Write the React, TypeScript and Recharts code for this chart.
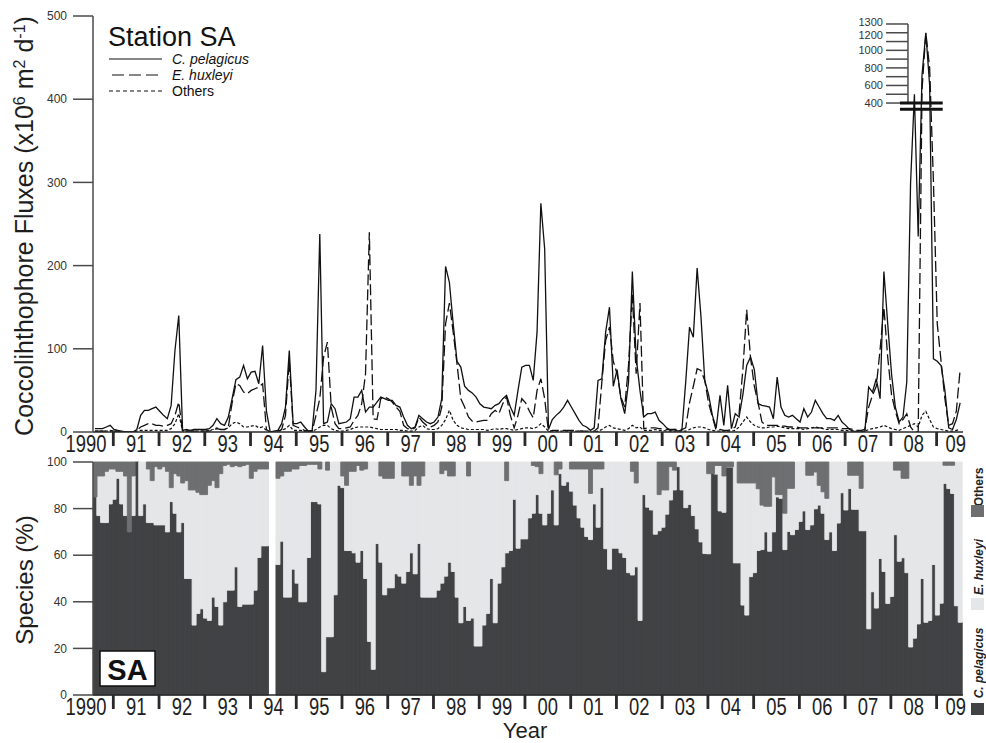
import React from 'react';
import { LineChart, Line, XAxis, YAxis, ReferenceLine, BarChart, Bar } from 'recharts';

const FONT = "'Liberation Sans', Arial, Helvetica, sans-serif";

// sampling grid (years)
const START_YEAR = 1990.556;
const END_YEAR = 2009.577;
const STEP = 1 / 12;

// Fluxes (x10^6 m^-2 d^-1), one value per sample
const pelagicusFlux = [
  4, 4, 4, 6, 8, 3, 2, 1, 0, 0, 0, 3,
  20, 26, 26, 28, 30, 25, 20, 16, 32, 98, 140, 2,
  3, 2, 3, 3, 3, 3, 4, 8, 16, 10, 8, 18,
  40, 63, 66, 80, 64, 72, 73, 58, 104, 25, 0, 1,
  2, 10, 30, 98, 10, 10, 12, 6, 1, 2, 50, 238,
  10, 12, 34, 28, 10, 11, 12, 16, 42, 42, 50, 24,
  30, 30, 36, 42, 40, 38, 38, 32, 30, 18, 8, 4,
  6, 20, 16, 12, 10, 12, 18, 40, 199, 180, 130, 85,
  78, 55, 50, 47, 42, 34, 30, 29, 28, 32, 34, 40,
  44, 30, 20, 50, 78, 80, 80, 62, 120, 275, 220, 3,
  15, 20, 24, 30, 38, 30, 22, 14, 8, 6, 2, 5,
  62, 64, 120, 150, 55, 75, 40, 22, 60, 193, 90, 50,
  18, 22, 22, 24, 14, 10, 5, 2, 3, 1, 2, 60,
  126, 114, 197, 139, 62, 45, 20, 5, 44, 8, 56, 4,
  22, 18, 45, 80, 90, 75, 34, 32, 31, 30, 16, 66,
  30, 20, 18, 20, 16, 12, 28, 18, 24, 38, 30, 22,
  16, 16, 14, 20, 12, 8, 3, 1, 0, 0, 1, 54,
  48, 64, 40, 193, 130, 70, 30, 12, 18, 60, 300, 500,
  235, 720, 1200, 600, 88, 85, 80, 50, 5, 3, 15, 35,
];
const huxleyiFlux = [
  1, 1, 1, 1, 2, 1, 1, 0, 0, 0, 0, 2,
  6, 8, 10, 10, 8, 8, 7, 8, 10, 20, 36, 1,
  1, 1, 1, 1, 1, 1, 1, 2, 4, 3, 3, 6,
  35, 58, 56, 48, 46, 50, 52, 54, 58, 3, 0, 0,
  1, 3, 20, 86, 8, 6, 4, 2, 1, 1, 20, 40,
  90, 108, 30, 10, 4, 4, 5, 6, 14, 20, 34, 70,
  240, 16, 15, 40, 42, 40, 36, 30, 25, 8, 4, 3,
  5, 18, 12, 8, 6, 8, 12, 30, 130, 155, 120, 82,
  40, 30, 18, 13, 12, 13, 14, 14, 22, 26, 22, 34,
  42, 20, 5, 20, 40, 35, 25, 17, 50, 64, 40, 0,
  2, 2, 2, 2, 2, 2, 2, 1, 1, 1, 1, 1,
  5, 60, 110, 126, 85, 70, 42, 30, 80, 165, 70, 155,
  4, 5, 5, 5, 4, 4, 3, 3, 3, 3, 3, 5,
  35, 55, 76, 74, 62, 35, 18, 2, 3, 2, 2, 3,
  6, 22, 75, 147, 90, 55, 35, 12, 8, 8, 8, 8,
  7, 7, 6, 6, 6, 5, 5, 5, 5, 5, 5, 5,
  5, 5, 5, 5, 4, 4, 4, 3, 2, 2, 3, 30,
  44, 55, 99, 150, 90, 45, 25, 10, 15, 22, 6, 0,
  0, 550, 1200, 800, 300, 130, 85, 40, 8, 10, 25, 75,
];
const othersFlux = [
  1, 1, 1, 1, 1, 1, 1, 0, 0, 0, 0, 1,
  2, 2, 2, 2, 2, 2, 2, 2, 4, 10, 22, 1,
  1, 1, 1, 1, 1, 1, 2, 3, 5, 3, 3, 5,
  10, 12, 10, 6, 6, 7, 8, 5, 6, 2, 0, 0,
  1, 2, 4, 8, 2, 2, 2, 1, 1, 1, 3, 6,
  8, 8, 4, 2, 1, 1, 2, 3, 5, 6, 6, 6,
  6, 5, 4, 3, 3, 3, 3, 3, 2, 2, 1, 1,
  2, 6, 8, 4, 3, 3, 4, 8, 15, 26, 14, 8,
  5, 4, 3, 3, 3, 3, 3, 2, 3, 4, 3, 4,
  4, 3, 2, 3, 4, 5, 5, 4, 6, 10, 6, 1,
  1, 1, 1, 1, 1, 1, 1, 1, 1, 0, 0, 0,
  1, 3, 6, 8, 5, 4, 3, 2, 4, 8, 5, 6,
  2, 2, 2, 3, 2, 2, 1, 1, 1, 1, 1, 1,
  3, 5, 6, 6, 5, 3, 2, 1, 1, 1, 1, 1,
  2, 6, 12, 18, 12, 8, 6, 5, 5, 6, 6, 7,
  6, 5, 4, 4, 4, 4, 3, 4, 5, 6, 5, 4,
  3, 3, 3, 3, 2, 2, 1, 1, 1, 1, 1, 3,
  4, 5, 6, 8, 6, 4, 3, 2, 4, 6, 8, 10,
  6, 20, 25, 15, 6, 4, 3, 2, 1, 1, 2, 3,
];

// Relative abundance (%)
const pelagicusPct: (number | null)[] = [
  85, 77, 74, 74, 82, 84, 93, 82, 77, 70, 77, 100,
  77, 82, 74, 74, 73, 73, 73, 70, 83, 78, 70, 74,
  50, 50, 30, 35, 37, 33, 32, 42, 38, 30, 40, 45,
  45, 55, 38, 39, 39, 39, 45, 59, 64, 64, null, null,
  56, 66, 42, 42, 54, 48, 40, 40, 59, 83, 83, 82,
  10, 25, 25, 43, 90, 89, 62, 62, 61, 57, 62, 50,
  23, 11, 65, 57, 43, 46, 46, 52, 51, 48, 53, 61,
  52, 65, 42, 42, 42, 42, 45, 48, 51, 57, 53, 42,
  31, 38, 32, 33, 21, 21, 30, 35, 50, 31, 48, 55,
  61, 62, 84, 63, 67, 67, 76, 78, 86, 78, 73, 78,
  88, 73, 95, 90, 91.5, 87.5, 81.5, 76, 72, 68, 66.7, 82,
  72, 89, 62.8, 54, 63, 63, 61, 59, 52.5, 51.5, 55, 32,
  86, 80.6, 79.4, 69, 70.5, 72, 77.6, 83.7, 88, 98, 88, 80.4,
  81.8, 77, 71.3, 65.7, 60.7, 60.6, 95, 94.8, 79, 78.4, 97.9, 97.9,
  56.7, 56.7, 38.6, 34.3, 50.8, 52.5, 62, 62.4, 70, 61.7, 70, 85,
  84.4, 62.4, 70.2, 68.8, 71, 74.5, 79, 71, 73, 79.9, 81.5, 78,
  66.7, 70, 62, 73.8, 86.8, 79.4, 88.6, 79.7, 79.7, 70.5, 70.5, 28.4,
  44.3, 37.3, 58.6, 53, 39.3, 42.3, 68.8, 57.4, 58.9, 52.5, 20.6, 24.4,
  30.5, 50, 31.2, 32, 56, 34.3, 39.4, 90.8, 88.6, 86.5, 38.3, 31.2,
];
const othersPct: (number | null)[] = [
  15, 6, 6, 4, 3, 3, 4, 4, 6, 30, 6, 0,
  0, 0, 3, 8, 2, 3, 2, 4, 11, 5, 6, 9,
  8, 12, 12, 13, 14, 14, 10, 8, 11, 5, 1.5, 1,
  2, 1.5, 2, 1.5, 1, 7, 4, 3, 3, 3, null, null,
  7, 6, 4, 4, 3, 3, 1.5, 1.5, 1, 1, 1, 3,
  0, 3.5, 0, 0, 0, 6, 10, 4, 4, 1.5, 3.5, 3,
  0, 0, 0, 6, 7, 7, 7, 0, 0, 6, 6, 10,
  6, 10, 6, 0, 0, 0, 0, 5, 3.5, 6, 6, 0,
  0, 0, 6, 0, 0, 0, 0, 0, 0, 0, 0, 0,
  8, 0, 0, 0, 0, 0, 0, 1.5, 2, 5, 0, 0,
  0, 5.5, 3, 0, 0, 3, 3, 3, 3, 3, 13.5, 3,
  3, 3, 0, 0, 0, 0, 0, 0, 0, 4, 9, 0,
  0, 0, 0, 0, 14, 12, 12, 2, 3.5, 0, 0, 0,
  0, 0, 0, 0, 0, 5, 5, 1.5, 1.5, 6, 2, 2,
  0, 9, 9, 9, 9, 9, 11.5, 18.5, 19, 19, 6.4, 14,
  14, 22, 11.3, 11.3, 0, 0, 0, 5.7, 5.7, 4.3, 10, 12.8,
  15.6, 0, 0, 0, 0, 0, 5.7, 5.7, 5.7, 11.3, 0, 0,
  0, 0, 0, 0, 0, 0, 3.5, 3.5, 7, 7, 0, 0,
  0, 0, 0, 0, 0, 0, 0, 1.4, 1.4, 1.4, 0, 0,
];

// axis ticks & labels
const yearBoundaries = [1991, 1992, 1993, 1994, 1995, 1996, 1997, 1998, 1999, 2000, 2001, 2002, 2003, 2004, 2005, 2006, 2007, 2008, 2009];
const yearLabelPos = [1990.6, 1991.5, 1992.5, 1993.5, 1994.5, 1995.5, 1996.5, 1997.5, 1998.5, 1999.5, 2000.5, 2001.5, 2002.5, 2003.5, 2004.5, 2005.5, 2006.5, 2007.5, 2008.5, 2009.42];
const yearLabels = ['1990', '91', '92', '93', '94', '95', '96', '97', '98', '99', '00', '01', '02', '03', '04', '05', '06', '07', '08', '09'];
const yearLabelShift = [-9, 0, 0, 0, 0, 0, 0, 0, 0, 0, 0, 0, 0, 0, 0, 0, 0, 0, 0, 0];
const fluxTicks = [0, 100, 200, 300, 400, 500];
const pctTicks = [0, 20, 40, 60, 80, 100];
const insetTicks = [400, 500, 600, 700, 800, 900, 1000, 1100, 1200, 1300];
const insetLabelled = [400, 600, 800, 1000, 1200, 1300];
const insetLabelNudge: Record<number, number> = { 1300: -2, 1200: 2 };

// broken axis
const BREAK_AT = 400;
const BREAK_BASE = 395.4;
const UPPER_RATIO = 95 / 900;
const toDisplay = (v: number) => (v < BREAK_AT ? v : BREAK_BASE + (v - BREAK_AT) * UPPER_RATIO);
const INSET_AXIS_X = 2008.374;
const INSET_TICK_X = 2007.893;
const BREAK_X0 = 2008.199;
const BREAK_X1 = 2009.133;
const BREAK_LOW = 387.9;

const sampleTime = (i: number) => START_YEAR + (i + 0.5) * STEP;

const fluxData = pelagicusFlux.map((p, i) => ({
  t: sampleTime(i),
  pel: toDisplay(p),
  hux: toDisplay(huxleyiFlux[i]),
  oth: toDisplay(othersFlux[i]),
}));

const pctData = pelagicusPct.map((p, i) => {
  const o = othersPct[i];
  return {
    t: sampleTime(i),
    pel: p,
    hux: p == null || o == null ? null : Math.max(0, 100 - p - o),
    oth: o,
  };
});

const allXTicks = [...yearBoundaries, ...yearLabelPos].sort((a, b) => a - b);

const DARK = '#414244';
const LIGHT = '#e5e6e8';
const MID = '#6e6f71';
const AXIS = '#4a4a4a';

function YearTick(props: any) {
  const { x, y, payload } = props;
  const v: number = payload && payload.value;
  if (yearBoundaries.some((b) => Math.abs(b - v) < 1e-6)) {
    return <rect x={x - 1.4} y={y} width={2.8} height={14} fill="#2a2a2a" />;
  }
  const li = yearLabelPos.findIndex((p) => Math.abs(p - v) < 1e-6);
  if (li < 0) return <g />;
  return (
    <g transform={`translate(${x + yearLabelShift[li]},${y + 19.5}) scale(0.8,1)`}>
      <text x={0} y={0} textAnchor="middle" fontSize={23} fill="#1e1e1e" fontFamily={FONT}>
        {yearLabels[li]}
      </text>
    </g>
  );
}

const yTickStyle = { fontSize: 12, fill: '#333', fontFamily: FONT };

function FluxChart() {
  return (
    <LineChart width={986} height={460} data={fluxData} margin={{ top: 16, right: 23, bottom: 0, left: 0 }}>
      <XAxis
        dataKey="t"
        type="number"
        domain={[START_YEAR, END_YEAR]}
        ticks={allXTicks}
        interval={0}
        tick={<YearTick />}
        tickLine={false}
        tickSize={0}
        tickMargin={0}
        height={28}
        axisLine={{ stroke: '#2a2a2a', strokeWidth: 1.5 }}
        allowDataOverflow
      />
      <YAxis
        type="number"
        domain={[0, 500]}
        ticks={fluxTicks}
        interval={0}
        width={93}
        tickSize={20}
        tickMargin={6}
        tick={yTickStyle}
        tickLine={{ stroke: AXIS, strokeWidth: 1.5 }}
        axisLine={{ stroke: AXIS, strokeWidth: 1.5 }}
        allowDataOverflow
      />
      <Line type="linear" dataKey="oth" stroke="#111" strokeWidth={1.2} strokeDasharray="3 2" dot={false} isAnimationActive={false} />
      <Line type="linear" dataKey="hux" stroke="#111" strokeWidth={1.3} strokeDasharray="11 4" dot={false} isAnimationActive={false} />
      <Line type="linear" dataKey="pel" stroke="#111" strokeWidth={1.3} dot={false} isAnimationActive={false} />
      <ReferenceLine
        segment={[{ x: INSET_AXIS_X, y: toDisplay(400) }, { x: INSET_AXIS_X, y: toDisplay(1300) }]}
        stroke={AXIS}
        strokeWidth={1.5}
      />
      {insetTicks.map((v) => (
        <ReferenceLine
          key={v}
          segment={[{ x: INSET_TICK_X, y: toDisplay(v) }, { x: INSET_AXIS_X, y: toDisplay(v) }]}
          stroke={AXIS}
          strokeWidth={1.5}
          label={
            insetLabelled.includes(v)
              ? { value: String(v), position: 'left', offset: 3, fontSize: 11, fill: '#333', fontFamily: FONT, dy: insetLabelNudge[v] || 0 }
              : undefined
          }
        />
      ))}
      <ReferenceLine segment={[{ x: BREAK_X0, y: toDisplay(400) }, { x: BREAK_X1, y: toDisplay(400) }]} stroke="#111" strokeWidth={3} />
      <ReferenceLine segment={[{ x: BREAK_X0, y: BREAK_LOW }, { x: BREAK_X1, y: BREAK_LOW }]} stroke="#111" strokeWidth={3} />
    </LineChart>
  );
}

function PctChart() {
  return (
    <BarChart width={986} height={303} data={pctData} margin={{ top: 22, right: 23, bottom: 20, left: 0 }} barCategoryGap={0} barGap={0}>
      <XAxis
        dataKey="t"
        type="number"
        domain={[START_YEAR, END_YEAR]}
        ticks={allXTicks}
        interval={0}
        tick={<YearTick />}
        tickLine={false}
        tickSize={0}
        tickMargin={0}
        height={28}
        axisLine={{ stroke: '#2a2a2a', strokeWidth: 1.5 }}
        allowDataOverflow
      />
      <YAxis
        type="number"
        domain={[0, 100]}
        ticks={pctTicks}
        interval={0}
        width={93}
        tickSize={20}
        tickMargin={6}
        tick={yTickStyle}
        tickLine={{ stroke: AXIS, strokeWidth: 1.5 }}
        axisLine={{ stroke: AXIS, strokeWidth: 1.5 }}
      />
      <Bar dataKey="pel" stackId="s" fill={DARK} stroke={DARK} strokeWidth={0.9} isAnimationActive={false} />
      <Bar dataKey="hux" stackId="s" fill={LIGHT} stroke={LIGHT} strokeWidth={0.9} isAnimationActive={false} />
      <Bar dataKey="oth" stackId="s" fill={MID} stroke={MID} strokeWidth={0.9} isAnimationActive={false} />
    </BarChart>
  );
}

function Decorations() {
  return (
    <svg width={986} height={743} style={{ position: 'absolute', left: 0, top: 0, pointerEvents: 'none' }} fontFamily={FONT}>
      {/* axis titles */}
      <text transform="translate(33,226) rotate(-90)" textAnchor="middle" fontSize={25} fill="#1e1e1e">
        Coccolihthophore Fluxes (x10
        <tspan dy={-8} fontSize={16}>6</tspan>
        <tspan dy={8}> m</tspan>
        <tspan dy={-8} fontSize={16}>2</tspan>
        <tspan dy={8}> d</tspan>
        <tspan dy={-8} fontSize={16}>-1</tspan>
        <tspan dy={8}>)</tspan>
      </text>
      <text transform="translate(33,580) rotate(-90)" textAnchor="middle" fontSize={24} fill="#1e1e1e">
        Species (%)
      </text>
      <text x={525} y={738.2} textAnchor="middle" fontSize={22} fill="#1e1e1e">
        Year
      </text>

      {/* top-left legend */}
      <text x={108} y={45.5} fontSize={27} fill="#111">Station SA</text>
      <line x1={109} x2={162} y1={59} y2={59} stroke="#111" strokeWidth={1.2} />
      <text x={172} y={64} fontSize={14} fontStyle="italic" fill="#111">C. pelagicus</text>
      <line x1={112} x2={162} y1={75} y2={75} stroke="#111" strokeWidth={1.2} strokeDasharray="12 5" />
      <text x={172} y={80} fontSize={14} fontStyle="italic" fill="#111">E. huxleyi</text>
      <line x1={109} x2={162} y1={91} y2={91} stroke="#111" strokeWidth={1.2} strokeDasharray="4 3" />
      <text x={172} y={96} fontSize={14} fill="#111">Others</text>

      {/* right legend */}
      <text transform="translate(983,487) rotate(-90)" textAnchor="middle" fontSize={12} fontWeight="bold" fill="#222">Others</text>
      <rect x={971} y={505} width={13} height={12} fill={MID} />
      <text transform="translate(983,567) rotate(-90)" textAnchor="middle" fontSize={12} fontWeight="bold" fontStyle="italic" fill="#222">E. huxleyi</text>
      <rect x={971} y={598} width={13} height={12} fill={LIGHT} />
      <text transform="translate(983,663) rotate(-90)" textAnchor="middle" fontSize={12} fontWeight="bold" fontStyle="italic" fill="#222">C. pelagicus</text>
      <rect x={971} y={703} width={13} height={12} fill={DARK} />

      {/* station box */}
      <rect x={100} y={651} width={55} height={35} fill="#fff" stroke="#111" strokeWidth={1.5} />
      <text x={127.5} y={680} textAnchor="middle" fontSize={29} fontWeight="bold" fill="#111">SA</text>
    </svg>
  );
}

export default function App() {
  return (
    <div style={{ position: 'absolute', left: 0, top: 0, width: 986, height: 743, background: '#fff', overflow: 'hidden' }}>
      <div style={{ position: 'absolute', left: 0, top: 440 }}>
        <PctChart />
      </div>
      <div style={{ position: 'absolute', left: 0, top: 0 }}>
        <FluxChart />
      </div>
      <Decorations />
    </div>
  );
}
